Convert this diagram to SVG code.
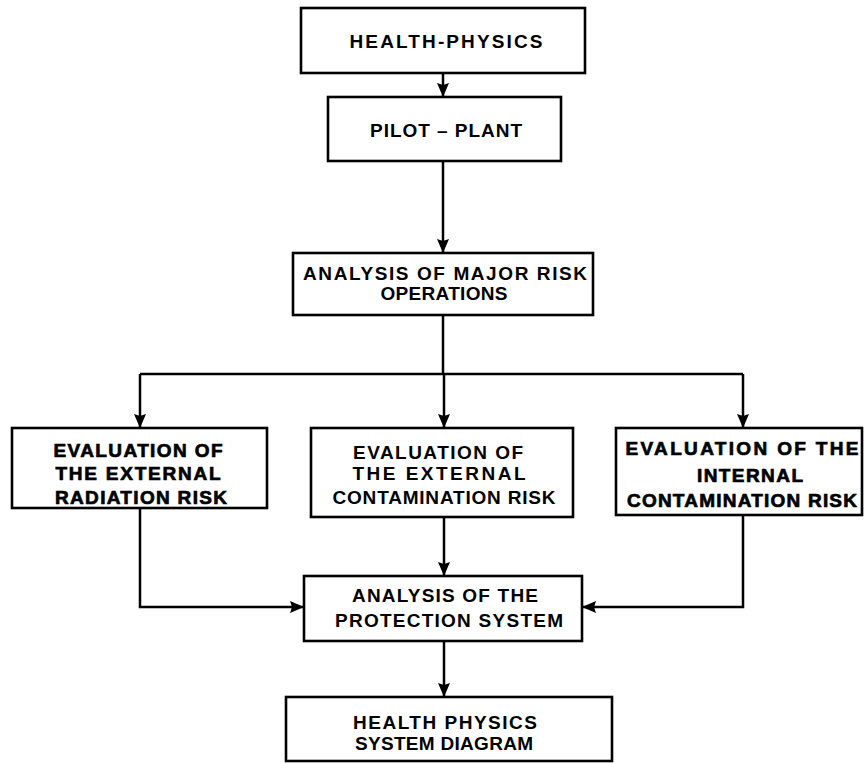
<svg xmlns="http://www.w3.org/2000/svg" width="866" height="763" viewBox="0 0 866 763">
<style>
.box{fill:#fff;stroke:#000;stroke-width:2.6}
.ln{fill:none;stroke:#000;stroke-width:2.5}
.t{font-family:"Liberation Sans",Arial,sans-serif;font-size:19px;font-weight:bold;fill:#000;text-anchor:middle}
.tb{font-family:"Liberation Sans",Arial,sans-serif;font-size:19px;font-weight:bold;fill:#000;text-anchor:middle;stroke:#000;stroke-width:0.7}
</style>
<defs>
<marker id="ah" markerUnits="userSpaceOnUse" markerWidth="16" markerHeight="16" viewBox="0 0 16 16" refX="14" refY="8" orient="auto">
<path d="M0,2 L14,8 L0,14 L2,8 Z" fill="#000"/>
</marker>
</defs>
<rect width="866" height="763" fill="#fff"/>
<g id="connectors">
<line class="ln" x1="443" y1="73" x2="443" y2="97" marker-end="url(#ah)"/>
<line class="ln" x1="443" y1="161" x2="443" y2="253" marker-end="url(#ah)"/>
<polyline class="ln" points="443,315 443,374"/>
<polyline class="ln" points="140,374 743,374"/>
<line class="ln" x1="140" y1="374" x2="140" y2="428" marker-end="url(#ah)"/>
<line class="ln" x1="444" y1="374" x2="444" y2="428" marker-end="url(#ah)"/>
<line class="ln" x1="743" y1="374" x2="743" y2="428" marker-end="url(#ah)"/>
<polyline class="ln" points="140,508 140,607 304,607" marker-end="url(#ah)"/>
<polyline class="ln" points="743,515 743,607 582,607" marker-end="url(#ah)"/>
<line class="ln" x1="444" y1="517" x2="444" y2="576" marker-end="url(#ah)"/>
<line class="ln" x1="444" y1="641" x2="444" y2="697" marker-end="url(#ah)"/>
</g>
<g id="health-physics">
<rect class="box" x="301" y="8" width="284" height="65"/>
<text class="t" x="446" y="48" textLength="193" lengthAdjust="spacing">HEALTH-PHYSICS</text>
</g>
<g id="pilot-plant">
<rect class="box" x="328" y="97" width="233" height="64"/>
<text class="t" x="446" y="137" textLength="152" lengthAdjust="spacing">PILOT – PLANT</text>
</g>
<g id="major-risk">
<rect class="box" x="293" y="253" width="300" height="62"/>
<text class="t" x="445" y="280" textLength="284" lengthAdjust="spacing">ANALYSIS OF MAJOR RISK</text>
<text class="t" x="444" y="300" textLength="127" lengthAdjust="spacing">OPERATIONS</text>
</g>
<g id="external-radiation">
<rect class="box" x="12" y="428" width="255" height="80"/>
<text class="tb" x="138" y="457" textLength="169" lengthAdjust="spacing">EVALUATION OF</text>
<text class="tb" x="138" y="480" textLength="165" lengthAdjust="spacing">THE EXTERNAL</text>
<text class="tb" x="141" y="504" textLength="172" lengthAdjust="spacing">RADIATION RISK</text>
</g>
<g id="external-contamination">
<rect class="box" x="311" y="428" width="262" height="89"/>
<text class="t" x="438" y="459" textLength="170" lengthAdjust="spacing">EVALUATION OF</text>
<text class="t" x="439" y="480" textLength="173" lengthAdjust="spacing">THE EXTERNAL</text>
<text class="t" x="444" y="504" textLength="223" lengthAdjust="spacing">CONTAMINATION RISK</text>
</g>
<g id="internal-contamination">
<rect class="box" x="616" y="428" width="246" height="87"/>
<text class="tb" x="742" y="455" textLength="233" lengthAdjust="spacing">EVALUATION OF THE</text>
<text class="tb" x="750" y="482" textLength="106" lengthAdjust="spacing">INTERNAL</text>
<text class="tb" x="742" y="507" textLength="230" lengthAdjust="spacing">CONTAMINATION RISK</text>
</g>
<g id="protection-system">
<rect class="box" x="304" y="576" width="278" height="65"/>
<text class="t" x="445" y="602" textLength="186" lengthAdjust="spacing">ANALYSIS OF THE</text>
<text class="t" x="449" y="627" textLength="228" lengthAdjust="spacing">PROTECTION SYSTEM</text>
</g>
<g id="system-diagram">
<rect class="box" x="286" y="697" width="326" height="64"/>
<text class="t" x="445" y="729" textLength="184" lengthAdjust="spacing">HEALTH PHYSICS</text>
<text class="t" x="444" y="750" textLength="178" lengthAdjust="spacing">SYSTEM DIAGRAM</text>
</g>
</svg>
